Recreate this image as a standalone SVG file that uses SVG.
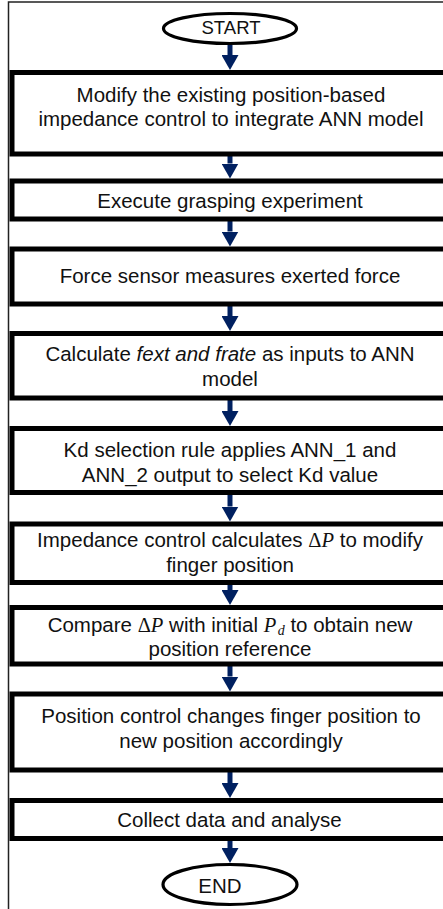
<svg xmlns="http://www.w3.org/2000/svg" width="443" height="909" viewBox="0 0 443 909">
<style>
.box{fill:#fff;stroke:#000;stroke-width:5}
.term{fill:#fff;stroke:#000;stroke-width:3.2}
.t{font-family:"Liberation Sans",Arial,sans-serif;font-size:20.5px;fill:#111;text-anchor:middle}
.m{font-family:"Liberation Serif","Times New Roman",serif}
.i{font-style:italic}
.arr{stroke:#002060;stroke-width:5;fill:none}
</style>
<defs>
<marker id="ah" viewBox="0 0 15 17" refX="0" refY="8.5" markerWidth="15" markerHeight="17" markerUnits="userSpaceOnUse" orient="auto">
<path d="M0,0 L15,8.5 L0,17 Z" fill="#002060"/>
</marker>
</defs>
<rect x="0" y="0" width="443" height="909" fill="#fff"/>
<rect x="8.5" y="2" width="460" height="930" fill="none" stroke="#222" stroke-width="1.5"/>
<g id="connectors">
<line class="arr" x1="230" y1="45" x2="230" y2="55" marker-end="url(#ah)"/>
<line class="arr" x1="230" y1="156" x2="230" y2="163.5" marker-end="url(#ah)"/>
<line class="arr" x1="230" y1="221" x2="230" y2="231.5" marker-end="url(#ah)"/>
<line class="arr" x1="230" y1="306" x2="230" y2="316" marker-end="url(#ah)"/>
<line class="arr" x1="230" y1="400" x2="230" y2="411" marker-end="url(#ah)"/>
<line class="arr" x1="230" y1="494.5" x2="230" y2="506.5" marker-end="url(#ah)"/>
<line class="arr" x1="230" y1="584.5" x2="230" y2="590" marker-end="url(#ah)"/>
<line class="arr" x1="230" y1="666" x2="230" y2="676.5" marker-end="url(#ah)"/>
<line class="arr" x1="230" y1="772" x2="230" y2="783" marker-end="url(#ah)"/>
<line class="arr" x1="230" y1="840.5" x2="230" y2="848" marker-end="url(#ah)"/>
</g>
<g id="start">
<ellipse class="term" cx="230" cy="28.5" rx="66.5" ry="15"/>
<text class="t" x="231" y="33.5" style="font-size:18.5px">START</text>
</g>
<g id="n1">
<rect class="box" x="12" y="72.5" width="445" height="81.5"/>
<text class="t" x="231" y="101.7">Modify the existing position-based</text>
<text class="t" x="231" y="126">impedance control to integrate ANN model</text>
</g>
<g id="n2">
<rect class="box" x="12" y="181" width="445" height="38"/>
<text class="t" x="230" y="208.3">Execute grasping experiment</text>
</g>
<g id="n3">
<rect class="box" x="12" y="249" width="445" height="55"/>
<text class="t" x="230" y="283.3">Force sensor measures exerted force</text>
</g>
<g id="n4">
<rect class="box" x="12" y="333.5" width="445" height="64.5"/>
<text class="t" x="230" y="361">Calculate <tspan class="i">fext and frate</tspan> as inputs to ANN</text>
<text class="t" x="230" y="386">model</text>
</g>
<g id="n5">
<rect class="box" x="12" y="428.5" width="445" height="64"/>
<text class="t" x="230" y="457">Kd selection rule applies ANN_1 and</text>
<text class="t" x="230" y="481.7">ANN_2 output to select Kd value</text>
</g>
<g id="n6">
<rect class="box" x="12" y="524" width="445" height="58.5"/>
<text class="t" x="230" y="546.7">Impedance control calculates <tspan class="m">Δ</tspan><tspan class="m i">P</tspan> to modify</text>
<text class="t" x="230" y="571.7">finger position</text>
</g>
<g id="n7">
<rect class="box" x="12" y="607.5" width="445" height="56.5"/>
<text class="t" x="230" y="631.7">Compare <tspan class="m">Δ</tspan><tspan class="m i">P</tspan> with initial <tspan class="m i">P</tspan><tspan class="m i" dx="1.5" dy="3" style="font-size:14px">d</tspan><tspan dy="-3"> to obtain new</tspan></text>
<text class="t" x="230" y="656">position reference</text>
</g>
<g id="n8">
<rect class="box" x="12" y="694" width="445" height="76"/>
<text class="t" x="231" y="723">Position control changes finger position to</text>
<text class="t" x="231" y="748">new position accordingly</text>
</g>
<g id="n9">
<rect class="box" x="12" y="800.5" width="445" height="38"/>
<text class="t" x="229.5" y="827">Collect data and analyse</text>
</g>
<g id="end">
<ellipse class="term" cx="230" cy="884.5" rx="67" ry="20"/>
<text class="t" x="220" y="893">END</text>
</g>
</svg>
